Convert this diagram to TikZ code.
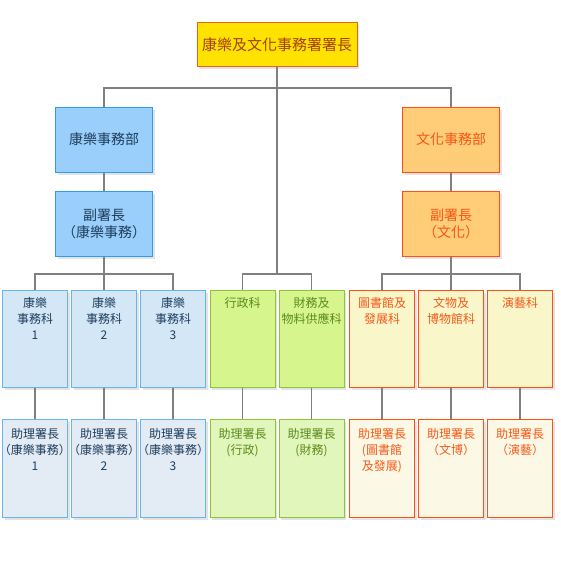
\documentclass[tikz,border=0pt]{standalone}
\usepackage{fontspec}
\newfontfamily\zhfont{Noto Sans CJK TC}[RawFeature={+halt}]
\usetikzlibrary{positioning,shadows}
\definecolor{chieffill}{HTML}{FFE200}
\definecolor{chiefline}{HTML}{E2661C}
\definecolor{chieftext}{HTML}{A3400E}
\definecolor{recfill}{HTML}{99CFFA}
\definecolor{recline}{HTML}{2E9CEB}
\definecolor{recpale}{HTML}{D3E7F7}
\definecolor{recpaler}{HTML}{E3ECF5}
\definecolor{recedge}{HTML}{6AB4EC}
\definecolor{rectext}{HTML}{1E3D5C}
\definecolor{culfill}{HTML}{FFCC77}
\definecolor{culline}{HTML}{FF4E18}
\definecolor{culpale}{HTML}{F9F6C9}
\definecolor{culpaler}{HTML}{FBF9E5}
\definecolor{cultext}{HTML}{F65818}
\definecolor{admfill}{HTML}{D6F58C}
\definecolor{admpale}{HTML}{E1F6BA}
\definecolor{admline}{HTML}{8CC43C}
\definecolor{admtext}{HTML}{5C8A1C}
\definecolor{linkgrey}{HTML}{808080}

\begin{document}
\begin{tikzpicture}[x=1pt,y=-1pt,
  box/.style={draw,line width=1pt,inner sep=0pt,
    drop shadow={shadow xshift=2pt,shadow yshift=-2.5pt,opacity=.22}},
  chief/.style={box,draw=chiefline,fill=chieffill,minimum width=160pt,minimum height=44pt,
    text=chieftext,font=\zhfont\fontsize{15}{18}\selectfont},
  dept/.style={box,minimum width=97pt,minimum height=65pt,align=center,
    font=\zhfont\fontsize{14}{17}\selectfont},
  sect/.style={box,minimum width=65pt,minimum height=97pt},
  asst/.style={box,minimum width=65pt,minimum height=98pt},
  txt/.style={anchor=north,align=center,inner sep=0pt,font=\zhfont\fontsize{12}{16}\selectfont},
  rec/.style={draw=recline,fill=recfill,text=rectext},
  cul/.style={draw=culline,fill=culfill,text=cultext},
  conn/.style={draw=linkgrey,line width=1.1pt}
]
\useasboundingbox (0,0) rectangle (560,578);

% top
\node[chief] (top) at (277,45) {康樂及文化事務署署長};

% departments
\node[dept,rec] (dl) at (104,139.5) {康樂事務部};
\node[dept,rec] (dl2) at (104,223.5) {副署長\\（康樂事務）};
\node[dept,cul] (dr) at (451,139.5) {文化事務部};
\node[dept,cul] (dr2) at (451,223.5) {副署長\\（文化）};

% sections
\node[sect,draw=recedge,fill=recpale] (k1) at (35,338.5) {};
\node[sect,draw=recedge,fill=recpale] (k2) at (104,338.5) {};
\node[sect,draw=recedge,fill=recpale] (k3) at (173,338.5) {};
\node[sect,draw=admline,fill=admfill] (xz) at (242.5,338.5) {};
\node[sect,draw=admline,fill=admfill] (cw) at (311.5,338.5) {};
\node[sect,draw=culline,fill=culpale] (ts) at (382,338.5) {};
\node[sect,draw=culline,fill=culpale] (wb) at (451,338.5) {};
\node[sect,draw=culline,fill=culpale] (yy) at (520,338.5) {};

\node[txt,text=rectext,yshift=-8pt] (k1t) at (k1.north) {康樂\\事務科\\1};
\node[txt,text=rectext,yshift=-8pt] (k2t) at (k2.north) {康樂\\事務科\\2};
\node[txt,text=rectext,yshift=-8pt] (k3t) at (k3.north) {康樂\\事務科\\3};
\node[txt,text=admtext,yshift=-8pt] (xzt) at (xz.north) {行政科};
\node[txt,text=admtext,yshift=-8pt] (cwt) at (cw.north) {財務及\\物料供應科};
\node[txt,text=cultext,yshift=-8pt] (tst) at (ts.north) {圖書館及\\發展科};
\node[txt,text=cultext,yshift=-8pt] (wbt) at (wb.north) {文物及\\博物館科};
\node[txt,text=cultext,yshift=-8pt] (yyt) at (yy.north) {演藝科};

% assistant directors
\node[asst,draw=recedge,fill=recpaler] (ak1) at (35,468) {};
\node[asst,draw=recedge,fill=recpaler] (ak2) at (104,468) {};
\node[asst,draw=recedge,fill=recpaler] (ak3) at (173,468) {};
\node[asst,draw=admline,fill=admpale] (axz) at (242.5,468) {};
\node[asst,draw=admline,fill=admpale] (acw) at (311.5,468) {};
\node[asst,draw=culline,fill=culpaler] (ats) at (382,468) {};
\node[asst,draw=culline,fill=culpaler] (awb) at (451,468) {};
\node[asst,draw=culline,fill=culpaler] (ayy) at (520,468) {};

\node[txt,text=rectext,yshift=-10pt] (ak1t) at (ak1.north) {助理署長\\（康樂事務）\\1};
\node[txt,text=rectext,yshift=-10pt] (ak2t) at (ak2.north) {助理署長\\（康樂事務）\\2};
\node[txt,text=rectext,yshift=-10pt] (ak3t) at (ak3.north) {助理署長\\（康樂事務）\\3};
\node[txt,text=admtext,yshift=-10pt] (axzt) at (axz.north) {助理署長\\(行政)};
\node[txt,text=admtext,yshift=-10pt] (acwt) at (acw.north) {助理署長\\(財務)};
\node[txt,text=cultext,yshift=-10pt] (atst) at (ats.north) {助理署長\\(圖書館\\及發展)};
\node[txt,text=cultext,yshift=-10pt] (awbt) at (awb.north) {助理署長\\（文博）};
\node[txt,text=cultext,yshift=-10pt] (ayyt) at (ayy.north) {助理署長\\（演藝）};

% connectors
\coordinate (h1) at (277,88);
\coordinate (hl) at (104,274);
\coordinate (hm) at (277,274);
\coordinate (hr) at (451,274);
\draw[conn] (dl.north) |- (h1) -| (dr.north);
\draw[conn] (top.south) -- (hm);
\draw[conn] (xz.north) |- (hm) -| (cw.north);
\draw[conn] (dl.south) -- (dl2.north);
\draw[conn] (dr.south) -- (dr2.north);
\draw[conn] (dl2.south) -- (k2.north);
\draw[conn] (k1.north) |- (hl) -| (k3.north);
\draw[conn] (dr2.south) -- (wb.north);
\draw[conn] (ts.north) |- (hr) -| (yy.north);
\foreach \n in {k1,k2,k3,xz,cw,ts,wb,yy}
  \draw[conn] (\n.south) -- (a\n.north);
\end{tikzpicture}
\end{document}
